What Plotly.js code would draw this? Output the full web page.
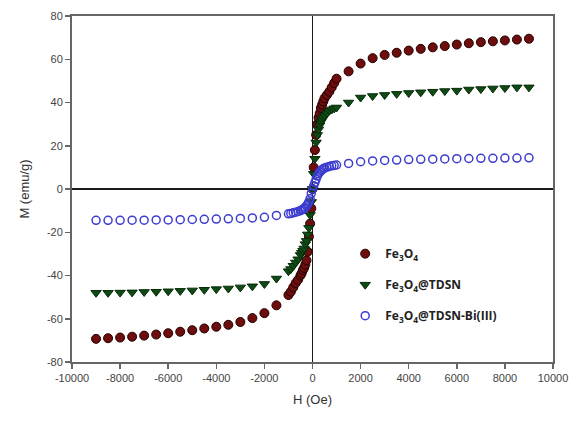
<!DOCTYPE html>
<html>
<head>
<meta charset="utf-8">
<script src="https://cdn.plot.ly/plotly-3.0.1.min.js"></script>
<style>html,body{margin:0;padding:0;background:#fff;}#chart{width:576px;height:421px;}</style>
</head>
<body>
<div id="chart"></div>
<script>
// Applied field H (Oe)
const H = [-9000,-8500,-8000,-7500,-7000,-6500,-6000,-5500,-5000,-4500,-4000,-3500,-3000,-2500,-2000,-1500,
  -1000,-900,-800,-700,-600,
  -500,-450,-400,-350,-300,-250,-200,-150,-100,-50,
  0,
  50,100,150,200,250,300,350,400,450,500,
  600,700,800,900,1000,
  1500,2000,2500,3000,3500,4000,4500,5000,5500,6000,6500,7000,7500,8000,8500,9000];

// Magnetization M (emu/g)
const M_Fe3O4 = [-69.3,-69.0,-68.7,-68.3,-67.8,-67.3,-66.7,-66.0,-65.3,-64.5,-63.7,-62.8,-61.5,-59.7,-57.4,-53.8,
  -49.0,-47.5,-45.5,-43.5,-42.0,
  -40.0,-39.0,-37.5,-36.5,-35.0,-33.0,-29.0,-22.0,-16.0,-9.0,
  0,
  10,18,25,30,33,35,37.5,39,40.5,42,
  43.5,45,47,49,51,
  54.4,58,60.5,62,63,64,64.8,65.5,66.1,66.8,67.4,67.9,68.3,68.7,69.1,69.5];

const M_TDSN = [-48.0,-48.0,-47.9,-47.8,-47.6,-47.5,-47.3,-47.1,-46.9,-46.6,-46.3,-46.0,-45.5,-45.0,-43.9,-41.4,
  -38.0,-37.0,-35.5,-34.0,-32.5,
  -30.5,-29.5,-28.5,-27.5,-25.5,-24.0,-21.0,-18.0,-12.0,-6.0,
  0,
  7,14,21.5,25,27.5,29.5,31,32,33,34,
  35,36.2,36.8,37.3,37.7,
  40,42.3,43,43.5,44,44.4,44.7,45,45.3,45.5,46,46.2,46.5,46.7,47,47];

const M_TDSN_Bi = [-14.5,-14.5,-14.5,-14.4,-14.4,-14.3,-14.3,-14.2,-14.1,-14.0,-13.9,-13.8,-13.6,-13.4,-13.1,-12.2,
  -11.5,-11.3,-11.0,-10.7,-10.4,
  -10.0,-9.7,-9.4,-9.0,-8.5,-7.8,-7.0,-6.0,-4.5,-2.0,
  0,
  1.5,3,4.5,6,7,7.8,8.4,9,9.4,9.7,
  10.1,10.4,10.7,10.9,11.1,
  11.8,12.6,13,13.2,13.4,13.6,13.7,13.8,13.9,14,14.1,14.2,14.2,14.3,14.3,14.4];

const seriesNames = ['<b>Fe<sub>3</sub>O<sub>4</sub></b>', '<b>Fe<sub>3</sub>O<sub>4</sub>@TDSN</b>', '<b>Fe<sub>3</sub>O<sub>4</sub>@TDSN-Bi(III)</b>'];
const xTicks = [-10000,-8000,-6000,-4000,-2000,0,2000,4000,6000,8000,10000];
const yTicks = [-80,-60,-40,-20,0,20,40,60,80];

const traces = [
  {x: H, y: M_Fe3O4, name: seriesNames[0], legendgroup: 'a', mode: 'markers', type: 'scatter',
   marker: {symbol: 'circle', size: 9, color: '#6e0d0d', line: {color: '#220000', width: 1}}},
  {x: H, y: M_TDSN, name: seriesNames[1], legendgroup: 'b', mode: 'markers', type: 'scatter',
   marker: {symbol: 'triangle-down', size: 9, color: '#0f4a14', line: {color: '#062a08', width: 1}}},
  {x: H, y: M_TDSN_Bi, name: seriesNames[2], legendgroup: 'c', mode: 'markers', type: 'scatter',
   marker: {symbol: 'circle-open', size: 8, color: '#3c3cd0', line: {color: '#3c3cd0', width: 1.5}}}
];

const axisCommon = {
  showgrid: false, showline: true, linecolor: '#666', linewidth: 2, mirror: true,
  ticks: 'outside', ticklen: 5, tickwidth: 1.5, tickcolor: '#666',
  zeroline: true, zerolinecolor: '#1a1a1a', zerolinewidth: 1.8,
  tickfont: {family: 'Liberation Sans, Arial, sans-serif', size: 11, color: '#444'}
};

const layout = {
  width: 576, height: 421,
  margin: {l: 72, r: 23, t: 16, b: 59},
  paper_bgcolor: '#fff', plot_bgcolor: '#fff',
  showlegend: true,
  xaxis: Object.assign({}, axisCommon, {
    range: [-10000, 10000], tickmode: 'array', tickvals: xTicks, ticktext: xTicks.map(String),
    title: {text: 'H (Oe)', standoff: 12, font: {family: 'Liberation Sans, Arial, sans-serif', size: 13, color: '#333'}}
  }),
  yaxis: Object.assign({}, axisCommon, {
    range: [-80, 80], tickmode: 'array', tickvals: yTicks, ticktext: yTicks.map(String),
    title: {text: 'M (emu/g)', standoff: 14, font: {family: 'Liberation Sans, Arial, sans-serif', size: 13, color: '#333'}}
  }),
  legend: {
    x: 0.568, y: 0.355, xanchor: 'left', yanchor: 'top',
    bgcolor: 'rgba(255,255,255,0)', borderwidth: 0,
    traceorder: 'grouped', tracegroupgap: 12,
    font: {family: 'Open Sans, Noto Sans, sans-serif', size: 12, color: '#222'}
  }
};

Plotly.newPlot('chart', traces, layout, {staticPlot: true, displayModeBar: false});
</script>
</body>
</html>
